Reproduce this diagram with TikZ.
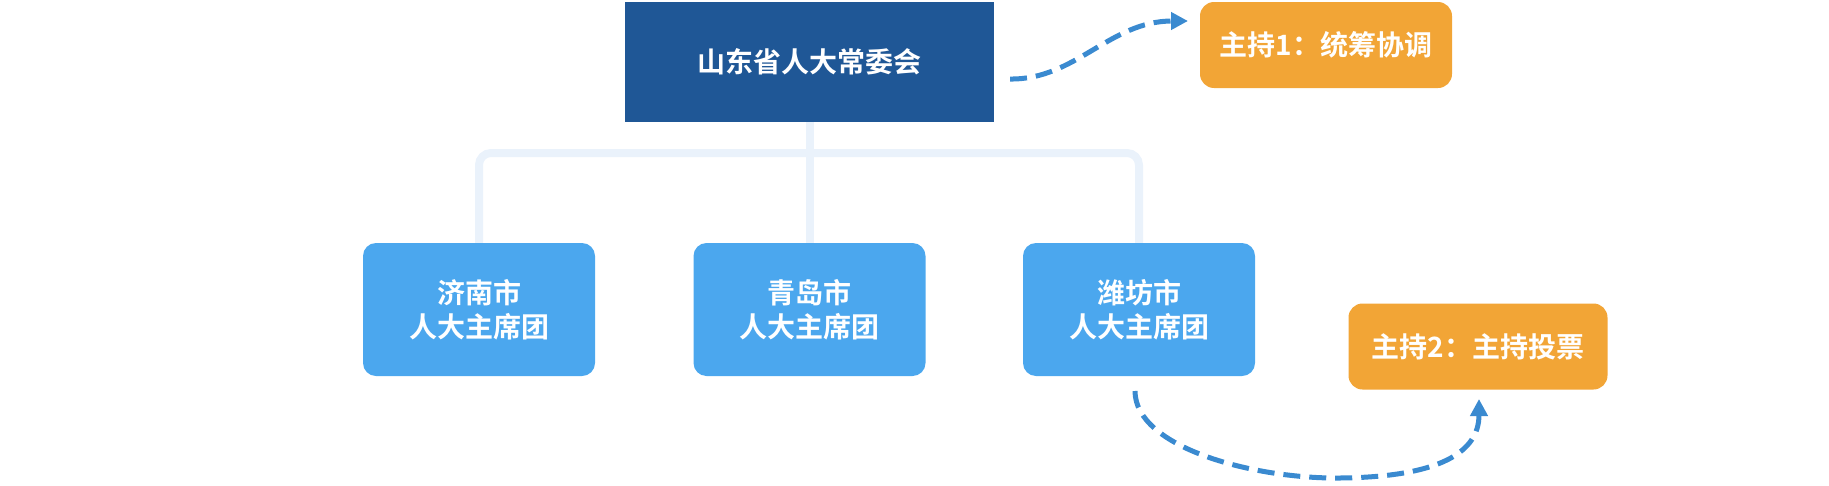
\documentclass[tikz,border=0pt]{standalone}
\usepackage{fontspec}
\setmainfont{Noto Sans CJK SC}[BoldFont={* Bold}]
\usetikzlibrary{arrows.meta}
\definecolor{topblue}{HTML}{1F5796}
\definecolor{cityblue}{HTML}{4BA7EE}
\definecolor{hostorange}{HTML}{F2A536}
\definecolor{treeline}{HTML}{EAF2FB}
\definecolor{arrowblue}{HTML}{3A8AD0}
\tikzset{
  box/.style={text=white, font=\bfseries\fontsize{28}{34.5}\selectfont, align=center, inner sep=0pt},
  topbox/.style={box, fill=topblue, minimum width=369pt, minimum height=120pt},
  citybox/.style={box, fill=cityblue, rounded corners=13pt, minimum width=232pt, minimum height=133pt},
  hostbox/.style={box, fill=hostorange, rounded corners=14pt, minimum height=86pt},
  tree/.style={draw=treeline, line width=8pt},
  flow/.style={draw=arrowblue, line width=5pt, dash pattern=on 17pt off 9pt,
    -{Triangle[length=17pt,width=17pt]}}
}
\begin{document}
\begin{tikzpicture}[x=1pt,y=-1pt]
\useasboundingbox (0,0) rectangle (1829,485);
\node[topbox] (top) at (809.5,62) {山东省人大常委会};
\node[citybox] (jinan) at (479,309.5) {济南市\\人大主席团};
\node[citybox] (qingdao) at (809.5,309.5) {青岛市\\人大主席团};
\node[citybox] (weifang) at (1139,309.5) {潍坊市\\人大主席团};
\node[hostbox, minimum width=252pt] (host1) at (1326,45) {主持1：统筹协调};
\node[hostbox, minimum width=259pt] (host2) at (1478,346.5) {主持2：主持投票};
\coordinate (bar) at (809.5,153);
\draw[tree] (top.south) -- (qingdao.north);
\draw[tree, rounded corners=12pt] (jinan.north) |- (bar) -| (weifang.north);
\coordinate (a1s) at (1010,79);
\coordinate (a1e) at (1188,21);
\draw[flow] (a1s) .. controls (1075,80) and (1110,21) .. (a1e);
\coordinate (a2s) at (1135,391);
\coordinate (a2m) at (1340,478);
\coordinate (a2e) at (1479,399);
\draw[flow] (a2s) .. controls (1135,448) and (1255,479) .. (a2m) .. controls (1440,477) and (1479,452) .. (a2e);
\end{tikzpicture}
\end{document}
